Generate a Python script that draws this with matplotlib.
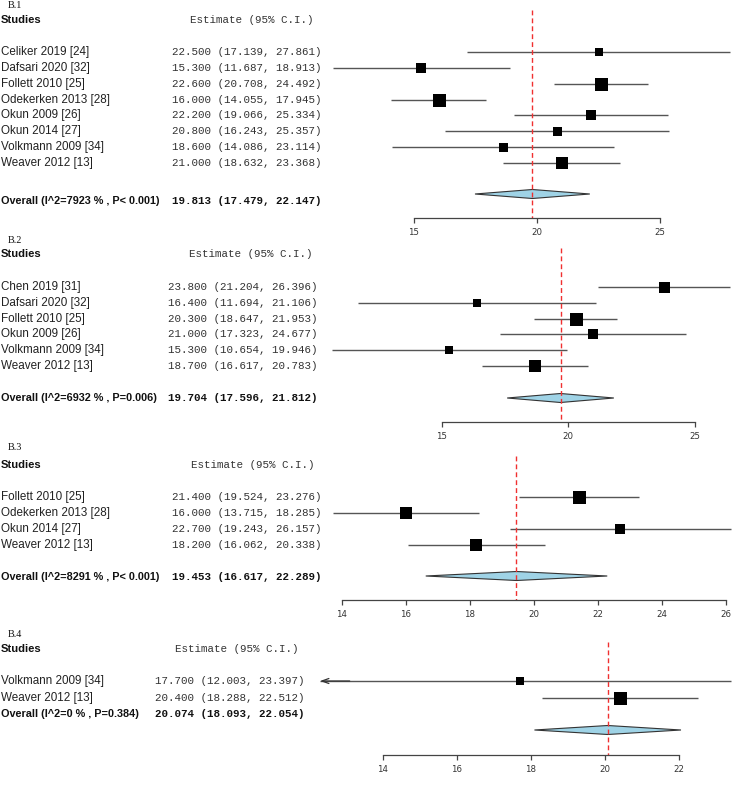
import matplotlib
matplotlib.use("Agg")
import matplotlib.pyplot as plt
from matplotlib.patches import Polygon

# ---------------- data ----------------
b1_studies = ["Celiker 2019 [24]", "Dafsari 2020 [32]", "Follett 2010 [25]", "Odekerken 2013 [28]",
              "Okun 2009 [26]", "Okun 2014 [27]", "Volkmann 2009 [34]", "Weaver 2012 [13]"]
b1_est = [22.5, 15.3, 22.6, 16.0, 22.2, 20.8, 18.6, 21.0]
b1_lo = [17.139, 11.687, 20.708, 14.055, 19.066, 16.243, 14.086, 18.632]
b1_hi = [27.861, 18.913, 24.492, 17.945, 25.334, 25.357, 23.114, 23.368]
b1_weight = [8, 10, 13, 13, 10.5, 9, 9, 12]
b1_overall = [19.813, 17.479, 22.147]
b1_overall_label = "Overall (I^2=7923 % , P< 0.001)"
b1_ticks = [15, 20, 25]

b2_studies = ["Chen 2019 [31]", "Dafsari 2020 [32]", "Follett 2010 [25]", "Okun 2009 [26]",
              "Volkmann 2009 [34]", "Weaver 2012 [13]"]
b2_est = [23.8, 16.4, 20.3, 21.0, 15.3, 18.7]
b2_lo = [21.204, 11.694, 18.647, 17.323, 10.654, 16.617]
b2_hi = [26.396, 21.106, 21.953, 24.677, 19.946, 20.783]
b2_weight = [11, 8.5, 13, 9.5, 8.5, 12]
b2_overall = [19.704, 17.596, 21.812]
b2_overall_label = "Overall (I^2=6932 % , P=0.006)"
b2_ticks = [15, 20, 25]

b3_studies = ["Follett 2010 [25]", "Odekerken 2013 [28]", "Okun 2014 [27]", "Weaver 2012 [13]"]
b3_est = [21.4, 16.0, 22.7, 18.2]
b3_lo = [19.524, 13.715, 19.243, 16.062]
b3_hi = [23.276, 18.285, 26.157, 20.338]
b3_weight = [13, 12.5, 10, 12.5]
b3_overall = [19.453, 16.617, 22.289]
b3_overall_label = "Overall (I^2=8291 % , P< 0.001)"
b3_ticks = [14, 16, 18, 20, 22, 24, 26]

b4_studies = ["Volkmann 2009 [34]", "Weaver 2012 [13]"]
b4_est = [17.7, 20.4]
b4_lo = [12.003, 18.288]
b4_hi = [23.397, 22.512]
b4_weight = [8.5, 13]
b4_overall = [20.074, 18.093, 22.054]
b4_overall_label = "Overall (I^2=0 % , P=0.384)"
b4_ticks = [14, 16, 18, 20, 22]

# ---------------- layout (pixels) ----------------
W, H, DPI = 750, 793, 100
panels = [
    dict(title="B.1", studies=b1_studies, est=b1_est, lo=b1_lo, hi=b1_hi, w=b1_weight,
         overall=b1_overall, olabel=b1_overall_label, ticks=b1_ticks,
         ref_px=537, scale=24.6, title_y=5, head_y=20, row0=52, step=15.85,
         otext_y=201, diam_y=194, axis_y=218, red_top=10, est_x=172, head_x=190, clip=None),
    dict(title="B.2", studies=b2_studies, est=b2_est, lo=b2_lo, hi=b2_hi, w=b2_weight,
         overall=b2_overall, olabel=b2_overall_label, ticks=b2_ticks,
         ref_px=568, scale=25.3, title_y=240, head_y=254, row0=287, step=15.8,
         otext_y=398, diam_y=398, axis_y=422, red_top=248, est_x=168, head_x=189, clip=None),
    dict(title="B.3", studies=b3_studies, est=b3_est, lo=b3_lo, hi=b3_hi, w=b3_weight,
         overall=b3_overall, olabel=b3_overall_label, ticks=b3_ticks,
         ref_px=534, scale=32.0, title_y=447, head_y=465, row0=497, step=16,
         otext_y=577, diam_y=576, axis_y=600, red_top=456, est_x=172, head_x=191, clip=None),
    dict(title="B.4", studies=b4_studies, est=b4_est, lo=b4_lo, hi=b4_hi, w=b4_weight,
         overall=b4_overall, olabel=b4_overall_label, ticks=b4_ticks,
         ref_px=605, scale=37.0, title_y=634, head_y=649, row0=681, step=17,
         otext_y=714, diam_y=730, axis_y=755, red_top=642, est_x=155, head_x=175, clip=12.3),
]

SANS = "Liberation Sans"
MONO = "Liberation Mono"
SERIF = "Liberation Serif"
FS = 8.4
FSB = 7.8
FSM = 7.8

fig = plt.figure(figsize=(W / DPI, H / DPI), dpi=DPI)
fig.patch.set_facecolor("white")

# text axes in pixel coordinates
tax = fig.add_axes([0, 0, 1, 1])
tax.set_xlim(0, W)
tax.set_ylim(H, 0)
tax.axis("off")

for p in panels:
    # ---- text columns ----
    tax.text(8, p["title_y"] + 0.5, p["title"], family=SERIF, fontsize=7.3, va="center", ha="left", color="#111")
    tax.text(1, p["head_y"], "Studies", family=SANS, fontweight="bold", fontsize=FSB + 0.3,
             va="center", ha="left", color="#111")
    tax.text(p["head_x"], p["head_y"], "Estimate (95% C.I.)", family=MONO, fontsize=FSM,
             va="center", ha="left", color="#333")
    rows_y = [p["row0"] + i * p["step"] for i in range(len(p["studies"]))]
    for name, e, l, h, y in zip(p["studies"], p["est"], p["lo"], p["hi"], rows_y):
        tax.text(1, y, name, family=SANS, fontsize=FS, va="center", ha="left", color="#222")
        tax.text(p["est_x"], y, f"{e:.3f} ({l:.3f}, {h:.3f})", family=MONO, fontsize=FSM,
                 va="center", ha="left", color="#333")
    oe, ol, oh = p["overall"]
    tax.text(1, p["otext_y"], p["olabel"], family=SANS, fontweight="bold", fontsize=FSB,
             va="center", ha="left", color="#111")
    tax.text(p["est_x"], p["otext_y"], f"{oe:.3f} ({ol:.3f}, {oh:.3f})", family=MONO,
             fontweight="bold", fontsize=FSM, va="center", ha="left", color="#111")

    # ---- forest axes ----
    ax = fig.add_axes([0, 0, 1, 1])
    ax.patch.set_visible(False)
    x0 = 20 - p["ref_px"] / p["scale"]
    x1 = 20 + (W - p["ref_px"]) / p["scale"]
    ax.set_xlim(x0, x1)
    ax.set_ylim(H, 0)
    for s in ("top", "left", "right"):
        ax.spines[s].set_visible(False)
    ax.spines["bottom"].set_position(("data", p["axis_y"]))
    ax.spines["bottom"].set_bounds(p["ticks"][0], p["ticks"][-1])
    ax.spines["bottom"].set_color("#444")
    ax.spines["bottom"].set_linewidth(0.9)
    ax.set_xticks(p["ticks"])
    ax.set_xticklabels([str(t) for t in p["ticks"]])
    ax.tick_params(axis="x", direction="out", length=3.5, width=0.9, color="#444",
                   labelsize=6.2, labelcolor="#333", pad=3.5)
    ax.set_yticks([])

    for e, l, h, w, y in zip(p["est"], p["lo"], p["hi"], p["w"], rows_y):
        if p["clip"] is not None and l < p["clip"]:
            ax.plot([p["clip"], h], [y, y], color="#555", lw=1.0, solid_capstyle="butt")
            ax.annotate("", xy=(p["clip"], y), xytext=(p["clip"] + 0.8, y),
                        arrowprops=dict(arrowstyle="->,head_length=0.5,head_width=0.18",
                                        color="#333", lw=0.9, shrinkA=0, shrinkB=0))
        else:
            ax.plot([l, h], [y, y], color="#555", lw=1.0, solid_capstyle="butt")
        ax.plot([e], [y], marker="s", color="black", markersize=w * 0.72,
                markeredgewidth=0, linestyle="none")

    dh = 4.5
    diam = Polygon([(ol, p["diam_y"]), (oe, p["diam_y"] - dh), (oh, p["diam_y"]), (oe, p["diam_y"] + dh)],
                   closed=True, facecolor="#9fd3e6", edgecolor="#333", lw=0.8)
    ax.add_patch(diam)
    ax.vlines(oe, p["red_top"], p["axis_y"], colors="#f03030", linestyles=(0, (3.5, 2.2)), lw=1.0)

fig.savefig("out.png", dpi=DPI, facecolor="white")
